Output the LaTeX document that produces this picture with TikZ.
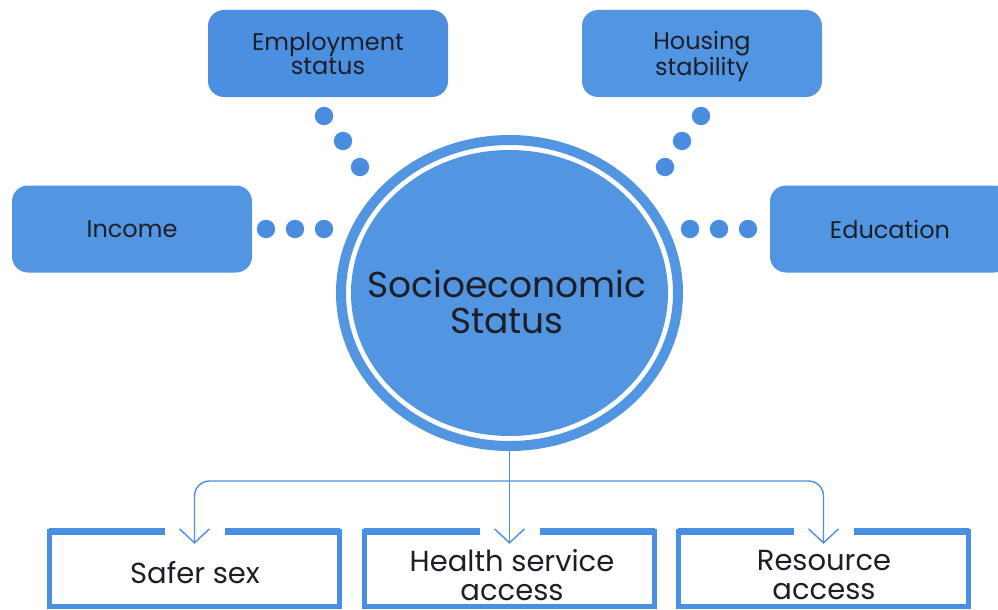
\documentclass[tikz,border=0pt]{standalone}
\usepackage{fontspec}
\setmainfont{Poppins}
\usetikzlibrary{shapes.geometric,arrows.meta}
\definecolor{sesblue}{HTML}{5296E2}
\definecolor{empblue}{HTML}{4A8FE0}
\definecolor{dotblue}{HTML}{4A8CDD}
\definecolor{linblue}{HTML}{4A90E2}
\definecolor{txt}{HTML}{1E1E28}
\begin{document}
\begin{tikzpicture}[x=1pt,y=-1pt,
  topbox/.style={rectangle, rounded corners=16pt, fill=sesblue, minimum width=240pt,
    minimum height=87pt, inner sep=0pt, text=txt, align=center,
    font=\fontsize{24}{24}\selectfont},
  botbox/.style={rectangle, minimum width=290pt, minimum height=74pt, inner sep=0pt},
  bottxt/.style={text=txt, align=center, font=\fontsize{29}{29}\selectfont, inner sep=0pt},
  sideline/.style={draw=linblue, line width=5pt},
  topline/.style={draw=linblue, line width=7pt},
  dotty/.style={fill=dotblue},
  arr/.style={draw=linblue, line width=1.4pt, -{Straight Barb[length=14pt,width=30pt]}}
]
\useasboundingbox (0,0) rectangle (998,610);

% top boxes
\node[topbox, fill=empblue] (emp) at (328,53.5) {Employment\\status};
\node[topbox] (hou) at (702,53.5) {Housing\\stabilit\smash{y}};
\node[topbox] (inc) at (132,229) {Income};
\node[topbox] (edu) at (890,229) {Education};

% central circle
\node[ellipse, draw=sesblue, line width=10pt, minimum width=337pt, minimum height=306pt, inner sep=0pt] (ses) at (509.5,293) {};
\node[ellipse, fill=sesblue, minimum width=317pt, minimum height=286pt, inner sep=0pt] (sesin) at (509.5,293) {};
\node[text=txt, align=center, font=\fontsize{36}{36}\selectfont, inner sep=0pt] (sestxt) at (507,302) {Socioeconomic\\Status};

% dots
\foreach \p in {(324,116),(343,141),(360,167),(266,229),(295,229),(324,229),
                (701,116),(682,141),(665,167),(690,229),(719,229),(748,229)}
  \fill[dotty] \p circle (9.2pt);

% bottom boxes
\node[botbox] (b1) at (194.5,569) {};
\node[botbox] (b2) at (509.5,569) {};
\node[botbox] (b3) at (823.5,569) {};
\foreach \b in {b1,b2,b3}{
  \draw[sideline] ([yshift=3pt]\b.north west) -- (\b.south west) -- (\b.south east) -- ([yshift=3pt]\b.north east);
  \draw[topline] (\b.north west) -- ([xshift=-30pt]\b.north);
  \draw[topline] ([xshift=30pt]\b.north) -- (\b.north east);
}
\node[bottxt] (t1) at (195,573) {Safer sex};
\node[bottxt] (t2) at (512,575) {Health service\\access};
\node[bottxt] (t3) at (824,575) {Resource\\access};

% connectors
\coordinate (junc) at (ses.south |- 0,481);
\draw[arr] (ses.south) -- ([yshift=-12pt]b2.north);
\draw[arr, rounded corners=15pt] (junc) -| ([yshift=-12pt]b1.north);
\draw[arr, rounded corners=15pt] (junc) -| ([yshift=-12pt]b3.north);
\end{tikzpicture}
\end{document}
